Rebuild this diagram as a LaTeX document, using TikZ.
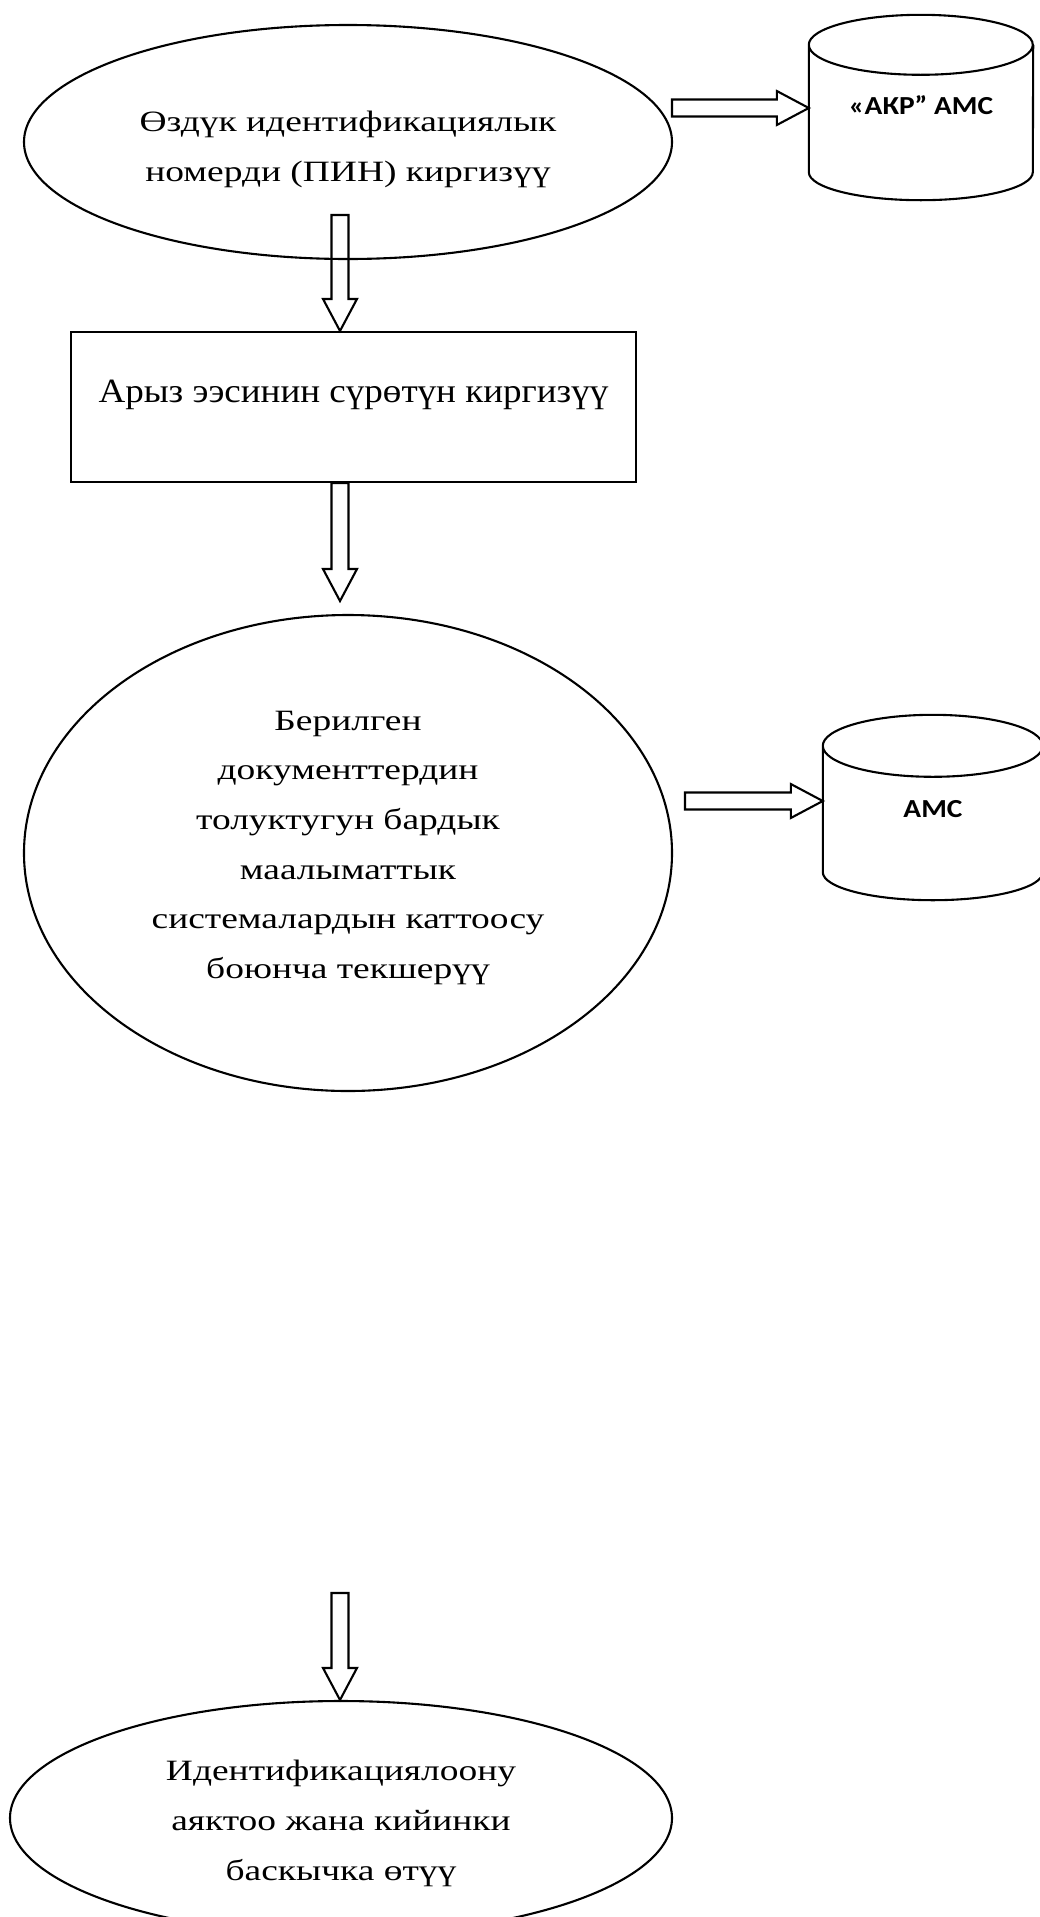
\documentclass[tikz,border=0pt]{standalone}
\usepackage{fontspec}
\setmainfont{Liberation Serif}
\newfontfamily\ovalfont[FakeStretch=1.27]{Liberation Serif}
\newfontfamily\boxfont[FakeStretch=1.09]{Liberation Serif}
\newfontfamily\dbfont[FakeStretch=1.13]{Carlito}
\usetikzlibrary{calc,shapes.geometric}

% text lines, last baseline raised by #1 from the node centre
\newcommand{\lines}[2]{\raisebox{#1}[0pt][0pt]{\begin{tabular}[b]{@{}c@{}}#2\end{tabular}}}

% hollow block arrow from #1 to #2
\newcommand{\blockarrow}[2]{%
  \coordinate (ba-h) at ($(#2)!32pt!(#1)$);
  \draw[fatline] ($(#1)!8.5pt!90:(#2)$) -- ($(ba-h)!8.5pt!90:(#2)$)
    -- ($(ba-h)!17pt!90:(#2)$) -- (#2) -- ($(ba-h)!17pt!-90:(#2)$)
    -- ($(ba-h)!8.5pt!-90:(#2)$) -- ($(#1)!8.5pt!-90:(#2)$) -- cycle;}

% cylinder outline round node #1: half width #2, top cap #3, base #4
\newcommand{\drumoutline}[4]{%
  \draw[fatline] ([yshift=-#3pt]#1.north west)
    arc[start angle=180, end angle=-180, x radius=#2pt, y radius=#3pt]
    -- ([yshift=#4pt]#1.south west)
    arc[start angle=180, end angle=360, x radius=#2pt, y radius=#4pt]
    -- ([yshift=-#3pt]#1.north east);}

\tikzset{
  fatline/.style={line width=2.1pt, line join=miter},
  oval/.style={draw, ellipse, line width=2.1pt, inner sep=0pt,
    font=\ovalfont\fontsize{29.5}{49.6}\selectfont},
  stepbox/.style={draw, rectangle, line width=2.1pt, inner sep=0pt,
    font=\boxfont\fontsize{34}{49.6}\selectfont},
  drum/.style={inner sep=0pt, font=\dbfont\bfseries\fontsize{26}{30}\selectfont},
}

\begin{document}
\begin{tikzpicture}[x=1pt, y=-1pt]
  \path[fill=white, use as bounding box] (0,0) rectangle (1040,1917);

  % PIN input
  \node[oval, minimum width=648pt, minimum height=234pt] (pin) at (348,142)
    {\lines{-39pt}{Өздүк идентификациялык\\номерди (ПИН) киргизүү}};
  \node[drum, minimum width=224pt, minimum height=185pt] (akr) at (921,107.5)
    {\lines{-6.8pt}{«АКР” АМС}};
  \drumoutline{akr}{112}{30}{28}

  % photo input
  \node[stepbox, minimum width=565pt, minimum height=150pt] (photo) at (353.5,407)
    {\lines{4.7pt}{Арыз ээсинин сүрөтүн киргизүү}};

  % document check
  \node[oval, minimum width=648pt, minimum height=476pt] (check) at (348,853)
    {\lines{-125.3pt}{Берилген\\документтердин\\толуктугун бардык\\маалыматтык\\системалардын каттоосу\\боюнча текшерүү}};
  \node[drum, minimum width=220pt, minimum height=185pt] (ams) at (933,807.5)
    {\lines{-9.5pt}{АМС}};
  \drumoutline{ams}{110}{31}{28}

  % end of identification
  \node[oval, minimum width=662pt, minimum height=234pt] (done) at (341,1818)
    {\lines{-62pt}{Идентификациялоону\\аяктоо жана кийинки\\баскычка өтүү}};

  % arrows
  \coordinate (a1) at (672,108);
  \coordinate (a2) at (685,801);
  \coordinate (a3) at (340,215);
  \coordinate (a4) at (a3 |- photo.south);
  \coordinate (b4) at (340,601);
  \coordinate (a5) at (340,1593);
  \blockarrow{a1}{a1 -| akr.west}
  \blockarrow{a2}{a2 -| ams.west}
  \blockarrow{a3}{a3 |- photo.north}
  \blockarrow{a4}{b4}
  \blockarrow{a5}{a5 |- done.north}
\end{tikzpicture}
\end{document}
